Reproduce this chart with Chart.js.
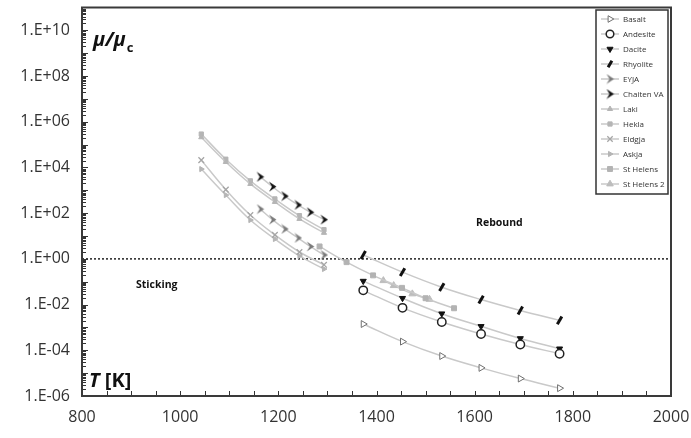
<!DOCTYPE html>
<html><head><meta charset="utf-8">
<script src="https://cdn.jsdelivr.net/npm/chart.js@4"></script>
<style>html,body{margin:0;padding:0;background:#fff}canvas{display:block}</style>
</head><body>
<canvas id="c" width="691" height="438"></canvas>
<script>
// ---- data (T in K, mu/mu_c) ----
const tempsMain = [1373, 1453, 1533, 1613, 1693, 1773];
const basalt    = [1.41e-3, 2.4e-4, 5.6e-5, 1.7e-5, 5.8e-6, 2.2e-6];
const andesite  = [4.2e-2, 7.2e-3, 1.74e-3, 5.2e-4, 1.8e-4, 7.1e-5];
const dacite    = [0.107, 1.9e-2, 4.0e-3, 1.12e-3, 3.3e-4, 1.17e-4];
const rhyolite  = [1.48, 0.263, 5.75e-2, 1.66e-2, 5.5e-3, 2.04e-3];

const tempsVolc = [1163, 1188, 1213, 1240, 1265, 1293];
const eyja      = [151, 52, 20.4, 8.3, 3.5, 1.48];
const chaiten   = [3900, 1450, 560, 230, 110, 52];

const tempsIce  = [1043, 1093, 1143, 1193, 1243, 1293];
const laki      = [2.1e5, 1.74e4, 1900, 310, 56, 13.8];
const hekla     = [2.9e5, 2.3e4, 2600, 420, 78, 19];
const eldgja    = [2.1e4, 1070, 83, 11.2, 2.0, 0.55];
const askja     = [8500, 620, 50, 7.4, 1.35, 0.36];

const tempsSH   = [1284, 1339, 1393, 1452, 1500, 1558];
const stHelens  = [3.5, 0.72, 0.19, 0.054, 0.019, 0.0069];
const tempsSH2  = [1414, 1435, 1473, 1508];
const stHelens2 = [0.112, 0.068, 0.0295, 0.017];

const thresholdT = [800, 2000];
const thresholdV = [1, 1];

const yTickExps = [-6, -4, -2, 0, 2, 4, 6, 8, 10];

// ---- styles ----
function chevron(color){
  const c = document.createElement('canvas'); c.width = 9; c.height = 11;
  const g = c.getContext('2d'); g.fillStyle = color;
  g.beginPath(); g.moveTo(1,0.5); g.lineTo(8.5,5.5); g.lineTo(1,10.5); g.lineTo(4,5.5); g.closePath(); g.fill();
  return c;
}
const LINE = '#c9c9c9';
const pts = (xs, ys) => xs.map((x, i) => ({x, y: ys[i]}));
function ds(label, xs, ys, st){
  return Object.assign({
    label, data: pts(xs, ys), borderColor: LINE, borderWidth: 1.5, tension: 0.4,
    pointRadius: 4, pointBorderWidth: 1, showLine: true
  }, st);
}
const datasets = [
  ds('Basalt', tempsMain, basalt, {pointStyle:'triangle', pointRotation:90, pointBackgroundColor:'#fff', pointBorderColor:'#707070', pointRadius:4}),
  ds('Andesite', tempsMain, andesite, {pointStyle:'circle', pointBackgroundColor:'#fff', pointBorderColor:'#222', pointBorderWidth:1.5, pointRadius:4.2}),
  ds('Dacite', tempsMain, dacite, {pointStyle:'triangle', pointRotation:180, pointBackgroundColor:'#111', pointBorderColor:'#111', pointRadius:3.5}),
  ds('Rhyolite', tempsMain, rhyolite, {pointStyle:'line', pointRotation:-60, pointBorderColor:'#111', pointBackgroundColor:'#111', pointBorderWidth:3, pointRadius:4.5}),
  ds('EYJA', tempsVolc, eyja, {pointStyle:chevron('#7a7a7a'), pointBackgroundColor:'#7a7a7a', pointBorderColor:'#7a7a7a'}),
  ds('Chaiten VA', tempsVolc, chaiten, {pointStyle:chevron('#111'), pointBackgroundColor:'#111', pointBorderColor:'#111'}),
  ds('Laki', tempsIce, laki, {pointStyle:'triangle', pointBackgroundColor:'#b5b5b5', pointBorderColor:'#b5b5b5', pointRadius:3}),
  ds('Hekla', tempsIce, hekla, {pointStyle:'rect', pointBackgroundColor:'#b5b5b5', pointBorderColor:'#b5b5b5', pointRadius:3}),
  ds('Eldgja', tempsIce, eldgja, {pointStyle:'crossRot', pointBackgroundColor:'#a5a5a5', pointBorderColor:'#a5a5a5', pointBorderWidth:1.3, pointRadius:4}),
  ds('Askja', tempsIce, askja, {pointStyle:'triangle', pointRotation:90, pointBackgroundColor:'#b5b5b5', pointBorderColor:'#b5b5b5', pointRadius:3}),
  ds('St Helens', tempsSH, stHelens, {pointStyle:'rect', pointBackgroundColor:'#b3b3b3', pointBorderColor:'#b3b3b3', pointRadius:3.5}),
  ds('St Helens 2', tempsSH2, stHelens2, {pointStyle:'triangle', pointBackgroundColor:'#bdbdbd', pointBorderColor:'#bdbdbd', pointRadius:4}),
  {label:'threshold', data: pts(thresholdT, thresholdV), borderColor:'#222', borderWidth:1.5, borderDash:[2,2], pointRadius:0, tension:0, showLine:true, inLegend:false}
];

const FONT = "'Open Sans', 'DejaVu Sans', sans-serif";

const decor = {
  id: 'decor',
  afterDraw(chart){
    const ctx = chart.ctx, a = chart.chartArea, xs = chart.scales.x, ys = chart.scales.y;
    ctx.save();
    // inward ticks
    ctx.strokeStyle = '#333'; ctx.lineWidth = 1;
    for (let t = 850; t < 2000; t += 50){
      const px = Math.round(xs.getPixelForValue(t)) + 0.5;
      ctx.beginPath(); ctx.moveTo(px, a.bottom); ctx.lineTo(px, a.bottom - 5); ctx.stroke();
    }
    for (let e = -6; e <= 10; e++){
      for (let m = 1; m <= 9; m++){
        const v = m * Math.pow(10, e);
        const py = Math.round(ys.getPixelForValue(v)) + 0.5;
        if (py <= a.top + 1 || py >= a.bottom - 1) continue;
        const len = (m === 1) ? 6 : 4;
        ctx.beginPath(); ctx.moveTo(a.left, py); ctx.lineTo(a.left + len, py); ctx.stroke();
      }
    }
    // frame
    ctx.strokeStyle = '#3a3a3a'; ctx.lineWidth = 2;
    ctx.strokeRect(a.left, a.top, a.right - a.left, a.bottom - a.top);

    // annotations
    ctx.fillStyle = '#111'; ctx.textBaseline = 'alphabetic'; ctx.textAlign = 'left';
    ctx.font = "italic bold 20px " + FONT;
    ctx.fillText('μ/μ', 93, 46);
    let w = ctx.measureText('μ/μ').width;
    ctx.font = "bold 13px " + FONT;
    ctx.fillText('c', 93 + w + 1, 52);
    ctx.font = "italic bold 20px " + FONT;
    ctx.fillText('T', 89, 387);
    w = ctx.measureText('T ').width;
    ctx.font = "bold 20px " + FONT;
    ctx.fillText('[K]', 89 + w, 387);
    ctx.font = "bold 10.5px " + FONT;
    ctx.textBaseline = 'middle';
    ctx.fillText('Sticking', 136, 285);
    ctx.fillText('Rebound', 476, 223);

    // legend
    const lx = 596, ly = 10, lw = 72, lh = 184;
    ctx.fillStyle = '#fff'; ctx.fillRect(lx, ly, lw, lh);
    ctx.strokeStyle = '#333'; ctx.lineWidth = 1.5; ctx.strokeRect(lx, ly, lw, lh);
    ctx.font = "8px " + FONT; ctx.textBaseline = 'middle';
    let i = 0;
    chart.data.datasets.forEach(d => {
      if (d.inLegend === false) return;
      const y = ly + 9 + i * 15;
      ctx.strokeStyle = LINE; ctx.lineWidth = 1.5; ctx.setLineDash([]);
      ctx.beginPath(); ctx.moveTo(601, y); ctx.lineTo(619, y); ctx.stroke();
      ctx.fillStyle = d.pointBackgroundColor; ctx.strokeStyle = d.pointBorderColor;
      ctx.lineWidth = d.pointBorderWidth || 1;
      Chart.helpers.drawPoint(ctx, {pointStyle: d.pointStyle, rotation: d.pointRotation || 0, radius: Math.min(d.pointRadius, 3.8), borderWidth: d.pointBorderWidth || 1}, 610, y);
      ctx.fillStyle = '#333';
      ctx.fillText(d.label, 623, y + 0.5);
      i++;
    });
    ctx.restore();
  }
};

function noPad(s){ s.paddingTop = 0; s.paddingBottom = 0; s.paddingLeft = 0; s.paddingRight = 0; }

new Chart(document.getElementById('c'), {
  type: 'scatter',
  data: {datasets},
  options: {
    responsive: false, animation: false, devicePixelRatio: 1,
    layout: {padding: {top: 6, right: 20, left: 0, bottom: 0}},
    plugins: {legend: {display: false}, tooltip: {enabled: false}},
    scales: {
      x: {
        type: 'linear', min: 800, max: 2000,
        ticks: {stepSize: 200, color: '#333', font: {family: FONT, size: 16}, padding: 12, maxRotation: 0,
          callback(v){ return String(v); }},
        grid: {display: false, drawTicks: false}, border: {display: false},
        afterFit(s){ s.height = 42; noPad(s); }
      },
      y: {
        type: 'logarithmic', min: 1e-6, max: 1e11,
        afterBuildTicks(s){ s.ticks = yTickExps.map(e => ({value: Math.pow(10, e)})); },
        ticks: {
          autoSkip: false, color: '#333', font: {family: FONT, size: 16}, padding: 12,
          callback(v){ const e = Math.round(Math.log10(v)); return '1.E' + (e < 0 ? '-' : '+') + String(Math.abs(e)).padStart(2, '0'); }
        },
        grid: {display: false, drawTicks: false}, border: {display: false},
        afterFit(s){ s.width = 82; noPad(s); }
      }
    }
  },
  plugins: [decor]
});
</script>
</body></html>
